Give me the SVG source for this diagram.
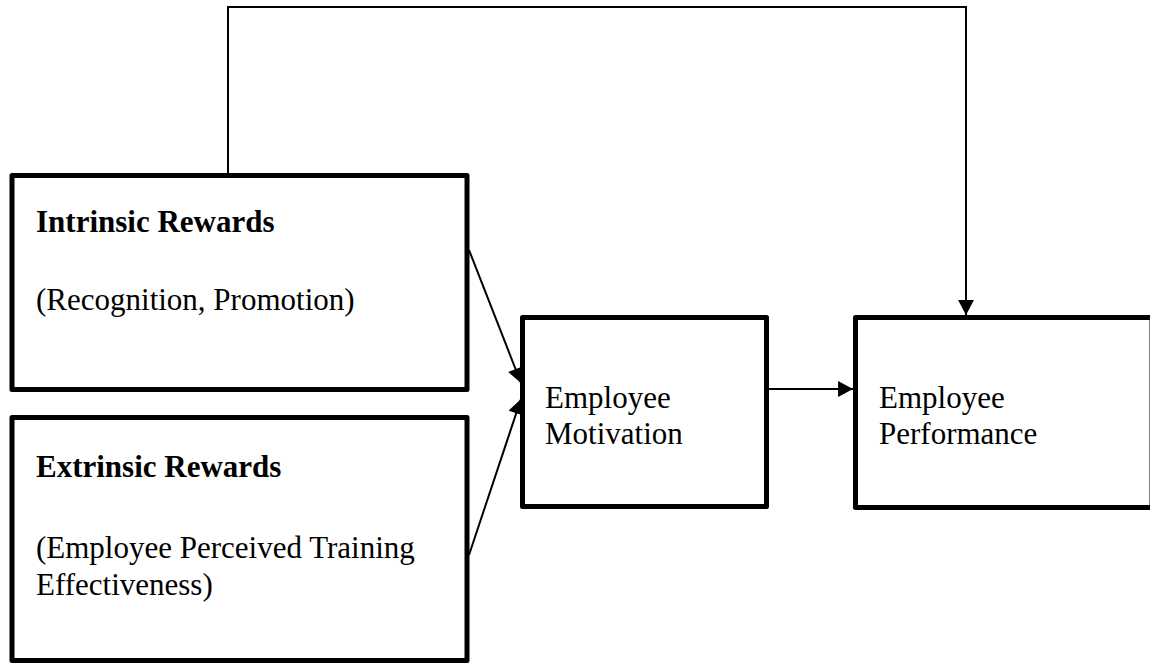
<svg xmlns="http://www.w3.org/2000/svg" width="1150" height="663" viewBox="0 0 1150 663">
  <style>
    .box { fill: #ffffff; stroke: #000000; stroke-width: 5; stroke-linejoin: round; }
    .t { font-family: "Liberation Serif", "Times New Roman", serif; font-size: 31px; fill: #000000; }
    .b { font-weight: bold; }
    .conn { fill: none; stroke: #000000; stroke-width: 2; }
  </style>
  <defs>
    <marker id="arrow" markerUnits="userSpaceOnUse" markerWidth="16" markerHeight="16" viewBox="0 0 14 15" refX="14" refY="7.5" orient="auto">
      <path d="M0,0 L14,7.5 L0,15 Z" fill="#000000"/>
    </marker>
  </defs>
  <rect width="1150" height="663" fill="#ffffff"/>

  <g id="connectors">
    <path class="conn" d="M228,174 L228,7 L966,7 L966,315" marker-end="url(#arrow)"/>
    <line class="conn" x1="469" y1="250" x2="521" y2="383" marker-end="url(#arrow)"/>
    <line class="conn" x1="469" y1="555" x2="521" y2="399" marker-end="url(#arrow)"/>
    <line class="conn" x1="769" y1="389" x2="853" y2="389" marker-end="url(#arrow)"/>
  </g>

  <g id="intrinsic">
    <rect class="box" x="12" y="175.5" width="455" height="214"/>
    <text class="t b" x="36" y="232">Intrinsic Rewards</text>
    <text class="t" x="36" y="310">(Recognition, Promotion)</text>
  </g>

  <g id="extrinsic">
    <rect class="box" x="12" y="417.5" width="455" height="243"/>
    <text class="t b" x="36" y="477">Extrinsic Rewards</text>
    <text class="t" x="36" y="558">(Employee Perceived Training</text>
    <text class="t" x="36" y="595">Effectiveness)</text>
  </g>

  <g id="motivation">
    <rect class="box" x="522.5" y="317.5" width="244" height="189"/>
    <text class="t" x="545" y="408">Employee</text>
    <text class="t" x="545" y="444">Motivation</text>
  </g>

  <g id="performance">
    <rect class="box" x="855.5" y="317.5" width="296.5" height="190"/>
    <text class="t" x="879" y="408">Employee</text>
    <text class="t" x="879" y="444">Performance</text>
  </g>
</svg>
